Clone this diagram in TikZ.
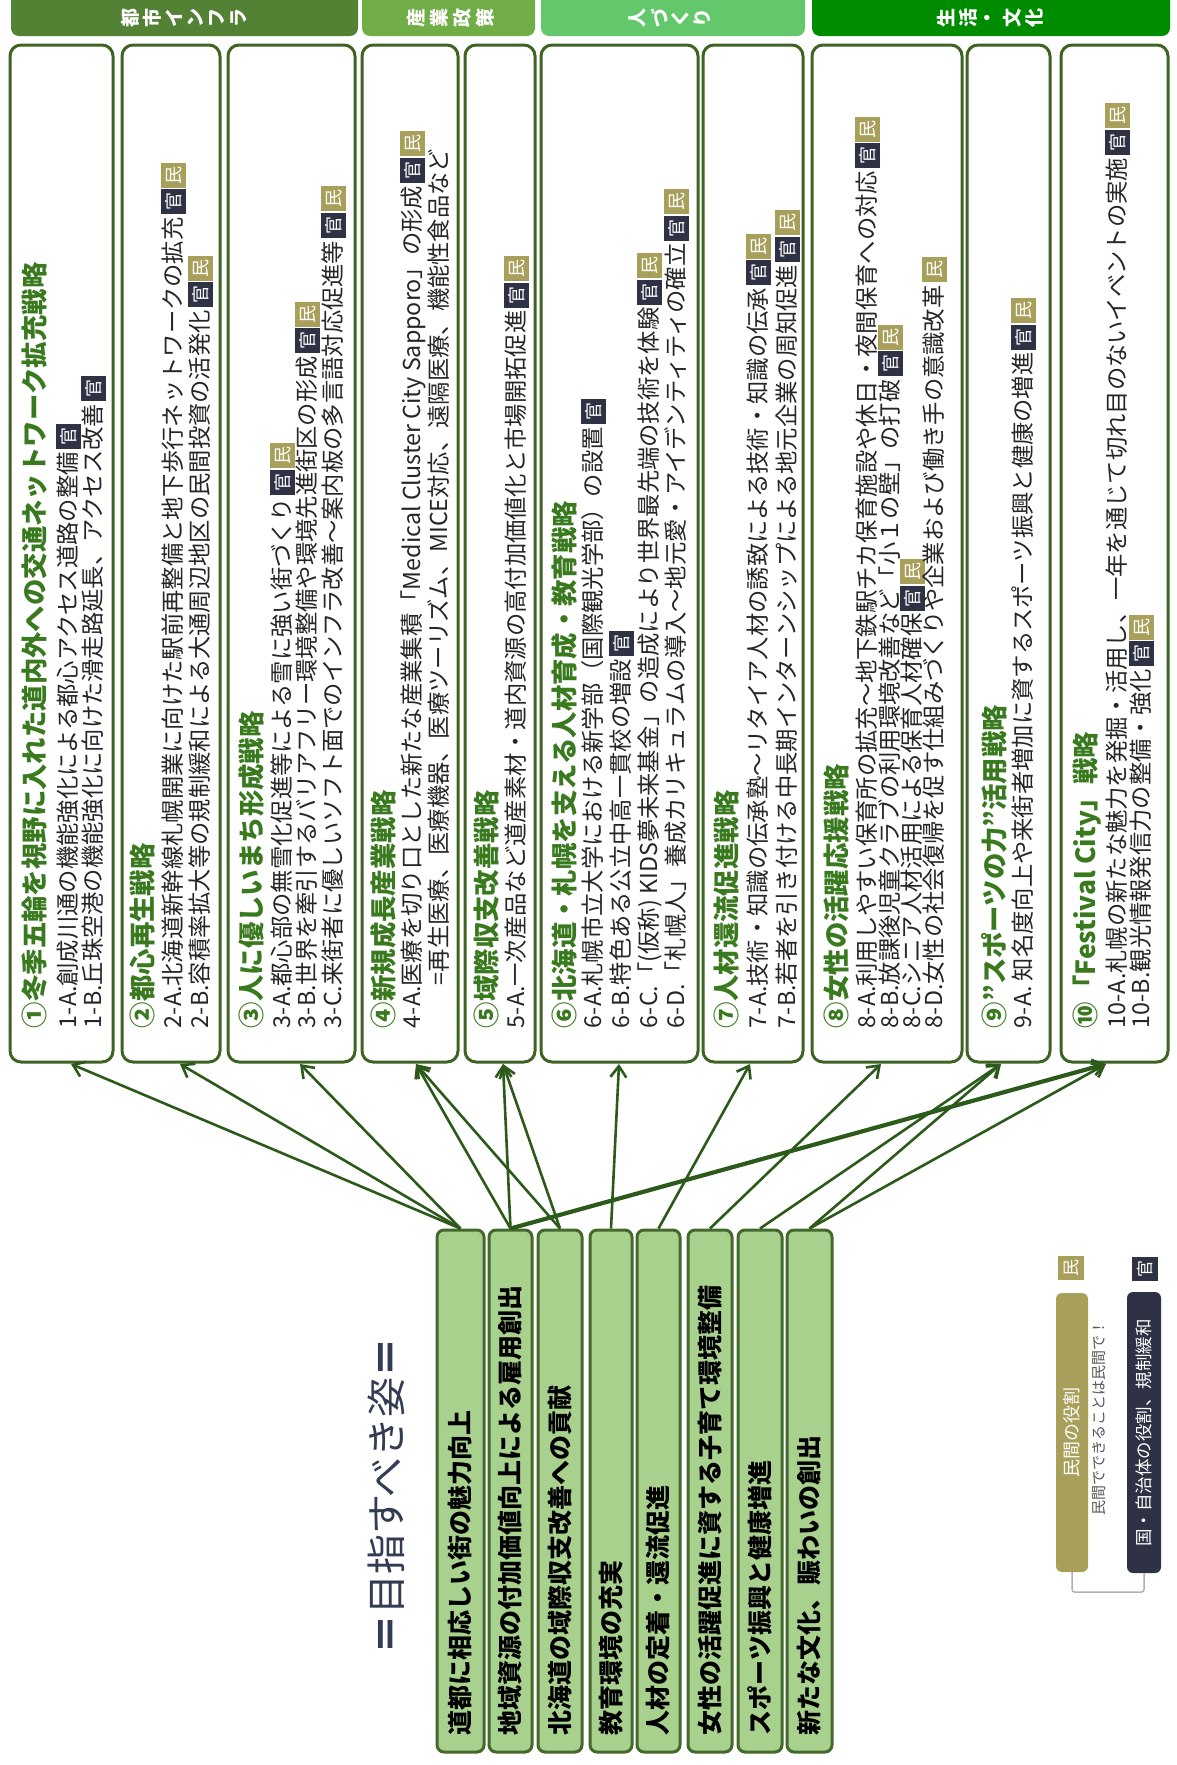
\documentclass[tikz,border=0pt]{standalone}
\usepackage{fontspec}
\setmainfont{Noto Sans CJK JP}
\usetikzlibrary{arrows.meta}

\definecolor{hdrA}{HTML}{548235}
\definecolor{hdrB}{HTML}{70AD47}
\definecolor{hdrC}{HTML}{63C86C}
\definecolor{hdrD}{HTML}{008C00}
\definecolor{kancol}{HTML}{2F3244}
\definecolor{mincol}{HTML}{A89F5B}
\definecolor{ttlgreen}{HTML}{3A7A1F}
\definecolor{bodycol}{HTML}{262626}
\definecolor{boxline}{HTML}{3E6424}
\definecolor{goalfill}{HTML}{A9D18E}
\definecolor{goalline}{HTML}{45692C}
\definecolor{arrcol}{HTML}{2B5A1A}
\definecolor{slate}{HTML}{323C52}
\definecolor{notegray}{HTML}{5A5A5A}
\definecolor{bracketgray}{HTML}{B0B0B0}

\setlength{\fboxsep}{0pt}
% small coloured role tags set inline with the text
\newcommand\roletag[2]{\colorbox{#1}{\rule[-4pt]{0pt}{25pt}\makebox[25pt][c]{\raisebox{1.5pt}{\color{white}\fontsize{18}{18}\selectfont #2}}}}
\newcommand\tagK{\hspace{3pt}\roletag{kancol}{官}}
\newcommand\tagM{\hspace{3pt}\roletag{mincol}{民}}
\newcommand\tagKM{\hspace{3pt}\roletag{kancol}{官}\hspace{1.5pt}\roletag{mincol}{民}}

\tikzset{
  vtxt/.style={rotate=90, anchor=west, inner sep=0pt, outer sep=0pt},
  ttl/.style={vtxt, font=\fontsize{26.4}{26.4}\selectfont\bfseries, text=ttlgreen, text height=23pt, text depth=3.5pt},
  bdy/.style={vtxt, font=\fontsize{23.3}{23.3}\selectfont, text=bodycol, text height=20pt, text depth=3pt},
  sbox/.style={draw=boxline, line width=3pt, fill=white, rounded corners=11pt, minimum height=1017pt, inner sep=0pt},
  goal/.style={draw=goalline, line width=3pt, fill=goalfill, rounded corners=7pt, minimum height=522pt, inner sep=0pt},
  goaltxt/.style={vtxt, font=\fontsize{25}{25}\selectfont\bfseries, text=black, text height=21.5pt, text depth=3.5pt},
  hdrbox/.style={rounded corners=8pt, minimum height=48pt, inner sep=0pt},
  hchar/.style={rotate=90, inner sep=0pt, text=white, font=\fontsize{19}{19}\selectfont\bfseries},
  arr/.style={draw=arrcol, line width=2.6pt, -{Straight Barb[length=11pt,width=16pt,line width=2.6pt]}},
  legbox/.style={rounded corners=6pt, inner sep=0pt},
  legtag/.style={inner sep=0pt, minimum width=26pt, minimum height=24pt},
}

\begin{document}
\begin{tikzpicture}[x=1pt, y=-1pt]
\useasboundingbox (0,0) rectangle (1176,1765);
\fill[white] (0,0) rectangle (1176,1765);

% ---------- category headers ----------
\begin{scope}
\clip (0,0) rectangle (1176,60);
\node[hdrbox, fill=hdrA, minimum width=347pt] (hdA) at (184.5,12) {};
\node[hdrbox, fill=hdrB, minimum width=173pt] (hdB) at (448.5,12) {};
\node[hdrbox, fill=hdrC, minimum width=264pt] (hdC) at (673,12) {};
\node[hdrbox, fill=hdrD, minimum width=358pt] (hdD) at (991,12) {};
\end{scope}
\foreach \ch [count=\i] in {都,市,イ,ン,フ,ラ}
  \node[hchar] (hdAc\i) at ({184.5+(\i-3.5)*21.5},18) {\ch};
\foreach \ch [count=\i] in {産,業,政,策}
  \node[hchar] (hdBc\i) at ({451+(\i-2.5)*23},18) {\ch};
\foreach \ch [count=\i] in {人,づ,く,り}
  \node[hchar] (hdCc\i) at ({670+(\i-2.5)*21.5},18) {\ch};
\foreach \ch [count=\i] in {生,活,・,文,化}
  \node[hchar] (hdDc\i) at ({990+(\i-3)*22},18) {\ch};

% ---------- strategy boxes ----------
\node[sbox, minimum width=103pt] (s1) at (61.5,553.5) {};
\node[sbox, minimum width=98pt]  (s2) at (171,553.5) {};
\node[sbox, minimum width=127pt] (s3) at (291.5,553.5) {};
\node[sbox, minimum width=96pt]  (s4) at (410,553.5) {};
\node[sbox, minimum width=70pt]  (s5) at (500,553.5) {};
\node[sbox, minimum width=157pt] (s6) at (619.5,553.5) {};
\node[sbox, minimum width=100pt] (s7) at (753,553.5) {};
\node[sbox, minimum width=150pt] (s8) at (887,553.5) {};
\node[sbox, minimum width=83pt]  (s9) at (1008.5,553.5) {};
\node[sbox, minimum width=107pt] (s10) at (1114.5,553.5) {};

% box 1
\node[ttl] (s1t) at (35,1028) {①冬季五輪を視野に入れた道内外への交通ネットワーク拡充戦略};
\node[bdy] (s1a) at (68,1028) {1-A.創成川通の機能強化による都心アクセス道路の整備\tagK};
\node[bdy] (s1b) at (93,1028) {1-B.丘珠空港の機能強化に向けた滑走路延長、アクセス改善\tagK};
% box 2
\node[ttl] (s2t) at (143,1028) {②都心再生戦略};
\node[bdy] (s2a) at (173,1028) {2-A.北海道新幹線札幌開業に向けた駅前再整備と地下歩行ネットワークの拡充\tagKM};
\node[bdy] (s2b) at (200,1028) {2-B.容積率拡大等の規制緩和による大通周辺地区の民間投資の活発化\tagKM};
% box 3
\node[ttl] (s3t) at (252,1028) {③人に優しいまち形成戦略};
\node[bdy] (s3a) at (282,1028) {3-A.都心部の無雪化促進等による雪に強い街づくり\tagKM};
\node[bdy] (s3b) at (307,1028) {3-B.世界を牽引するバリアフリー環境整備や環境先進街区の形成\tagKM};
\node[bdy] (s3c) at (333,1028) {3-C.来街者に優しいソフト面でのインフラ改善～案内板の多言語対応促進等\tagKM};
% box 4
\node[ttl] (s4t) at (384,1028) {④新規成長産業戦略};
\node[bdy] (s4a) at (412,1028) {4-A.医療を切り口とした新たな産業集積「Medical Cluster City Sapporo」の形成\tagKM};
\node[bdy] (s4b) at (439,985) {=再生医療、医療機器、医療ツーリズム、MICE対応、遠隔医療、機能性食品など};
% box 5
\node[ttl] (s5t) at (487,1028) {⑤域際収支改善戦略};
\node[bdy] (s5a) at (516,1028) {5-A.一次産品など道産素材・道内資源の高付加価値化と市場開拓促進\tagKM};
% box 6
\node[ttl] (s6t) at (565,1028) {⑥北海道・札幌を支える人材育成・教育戦略};
\node[bdy] (s6a) at (593,1028) {6-A.札幌市立大学における新学部（国際観光学部）の設置\tagK};
\node[bdy] (s6b) at (621,1028) {6-B.特色ある公立中高一貫校の増設\tagK};
\node[bdy] (s6c) at (649,1028) {6-C.「(仮称) KIDS夢未来基金」の造成により世界最先端の技術を体験\tagKM};
\node[bdy] (s6d) at (676,1028) {6-D.「札幌人」養成カリキュラムの導入～地元愛・アイデンティティの確立\tagKM};
% box 7
\node[ttl] (s7t) at (727,1028) {⑦人材還流促進戦略};
\node[bdy] (s7a) at (758,1028) {7-A.技術・知識の伝承塾～リタイア人材の誘致による技術・知識の伝承\tagKM};
\node[bdy] (s7b) at (787,1028) {7-B.若者を引き付ける中長期インターンシップによる地元企業の周知促進\tagKM};
% box 8
\node[ttl] (s8t) at (837,1028) {⑧女性の活躍応援戦略};
\node[bdy] (s8a) at (867,1028) {8-A.利用しやすい保育所の拡充～地下鉄駅チカ保育施設や休日・夜間保育への対応\tagKM};
\node[bdy] (s8b) at (890,1028) {8-B.放課後児童クラブの利用環境改善など「小１の壁」の打破\tagKM};
\node[bdy] (s8c) at (912,1028) {8-C.シニア人材活用による保育人材確保\tagKM};
\node[bdy] (s8d) at (934,1028) {8-D.女性の社会復帰を促す仕組みづくりや企業および働き手の意識改革\tagM};
% box 9
\node[ttl] (s9t) at (995,1028) {⑨”スポーツの力”活用戦略};
\node[bdy] (s9a) at (1023,1028) {9-A. 知名度向上や来街者増加に資するスポーツ振興と健康の増進\tagKM};
% box 10
\node[ttl] (s10t) at (1086,1028) {⑩「Festival City」戦略};
\node[bdy] (s10a) at (1117,1028) {10-A.札幌の新たな魅力を発掘・活用し、一年を通じて切れ目のないイベントの実施\tagKM};
\node[bdy] (s10b) at (1141,1028) {10-B.観光情報発信力の整備・強化\tagKM};

% arrow heads meet the lower edge of each strategy box here
\coordinate (h1) at (71,1064);
\coordinate (h2) at (180,1064);
\coordinate (h3) at (300,1064);
\coordinate (h4) at (416,1064);
\coordinate (h5) at (503,1064);
\coordinate (h6) at (619,1064);
\coordinate (h7) at (750,1064);
\coordinate (h8) at (881,1064);
\coordinate (h9) at (1001,1064);
\coordinate (h10) at (1106,1064);

% ---------- goals ----------
\node[rotate=90, inner sep=0pt, font=\fontsize{40}{40}\selectfont, text=slate] (goaltitle) at (386,1496) {{\bfseries ＝}目指すべき姿{\bfseries ＝}};

\node[goal, minimum width=47pt] (g1) at (460.5,1491) {};
\node[goal, minimum width=43pt] (g2) at (510.5,1491) {};
\node[goal, minimum width=44pt] (g3) at (560,1491) {};
\node[goal, minimum width=42pt] (g4) at (611,1491) {};
\node[goal, minimum width=43pt] (g5) at (658.5,1491) {};
\node[goal, minimum width=44pt] (g6) at (710,1491) {};
\node[goal, minimum width=44pt] (g7) at (760,1491) {};
\node[goal, minimum width=45pt] (g8) at (809.5,1491) {};

\node[goaltxt] (g1t) at (460.5,1735) {道都に相応しい街の魅力向上};
\node[goaltxt] (g2t) at (510.5,1735) {地域資源の付加価値向上による雇用創出};
\node[goaltxt] (g3t) at (560,1735) {北海道の域際収支改善への貢献};
\node[goaltxt] (g4t) at (611,1735) {教育環境の充実};
\node[goaltxt] (g5t) at (658.5,1735) {人材の定着・還流促進};
\node[goaltxt] (g6t) at (710,1735) {女性の活躍促進に資する子育て環境整備};
\node[goaltxt] (g7t) at (760,1735) {スポーツ振興と健康増進};
\node[goaltxt] (g8t) at (809.5,1735) {新たな文化、賑わいの創出};

% ---------- connectors ----------
\draw[arr] (g1.north) -- (h1);
\draw[arr] (g1.north) -- (h2);
\draw[arr] (g1.north) -- (h3);
\draw[arr] (g2.north) -- (h4);
\draw[arr] (g2.north) -- (h5);
\draw[arr, line width=4.2pt] (g2.north) -- (h10);
\draw[arr] (g3.north) -- (h4);
\draw[arr] (g3.north) -- (h5);
\draw[arr] (g4.north) -- (h6);
\draw[arr] (g5.north) -- (h7);
\draw[arr] (g6.north) -- (h8);
\draw[arr] (g7.north) -- (h9);
\draw[arr] (g8.north) -- (h9);
\draw[arr] (g8.north) -- (h10);

% ---------- legend ----------
\node[legtag, fill=mincol] (lgMtag) at (1071,1268) {};
\node[rotate=90, inner sep=0pt, text=white, font=\fontsize{17}{17}\selectfont] (lgMtagc) at (1071,1268) {民};
\node[legtag, fill=kancol] (lgKtag) at (1145,1269) {};
\node[rotate=90, inner sep=0pt, text=white, font=\fontsize{17}{17}\selectfont] (lgKtagc) at (1145,1269) {官};

\node[legbox, fill=mincol, minimum width=32pt, minimum height=279pt] (lgM) at (1072,1432.5) {};
\node[rotate=90, inner sep=0pt, text=white, font=\fontsize{18}{18}\selectfont] (lgMtext) at (1072,1432) {民間の役割};
\node[rotate=90, inner sep=0pt, text=notegray, font=\fontsize{15}{15}\selectfont] (lgMnote) at (1099,1418) {民間でできることは民間で！};
\node[legbox, fill=kancol, minimum width=34pt, minimum height=281pt] (lgK) at (1144,1432.5) {};
\node[rotate=90, inner sep=0pt, text=white, font=\fontsize{17.5}{17.5}\selectfont] (lgKtext) at (1144,1433) {国・自治体の役割、規制緩和};
\draw[bracketgray, line width=1.5pt, rounded corners=3pt] (lgM.south) -- ++(0,20) -| (lgK.south);
\end{tikzpicture}
\end{document}
